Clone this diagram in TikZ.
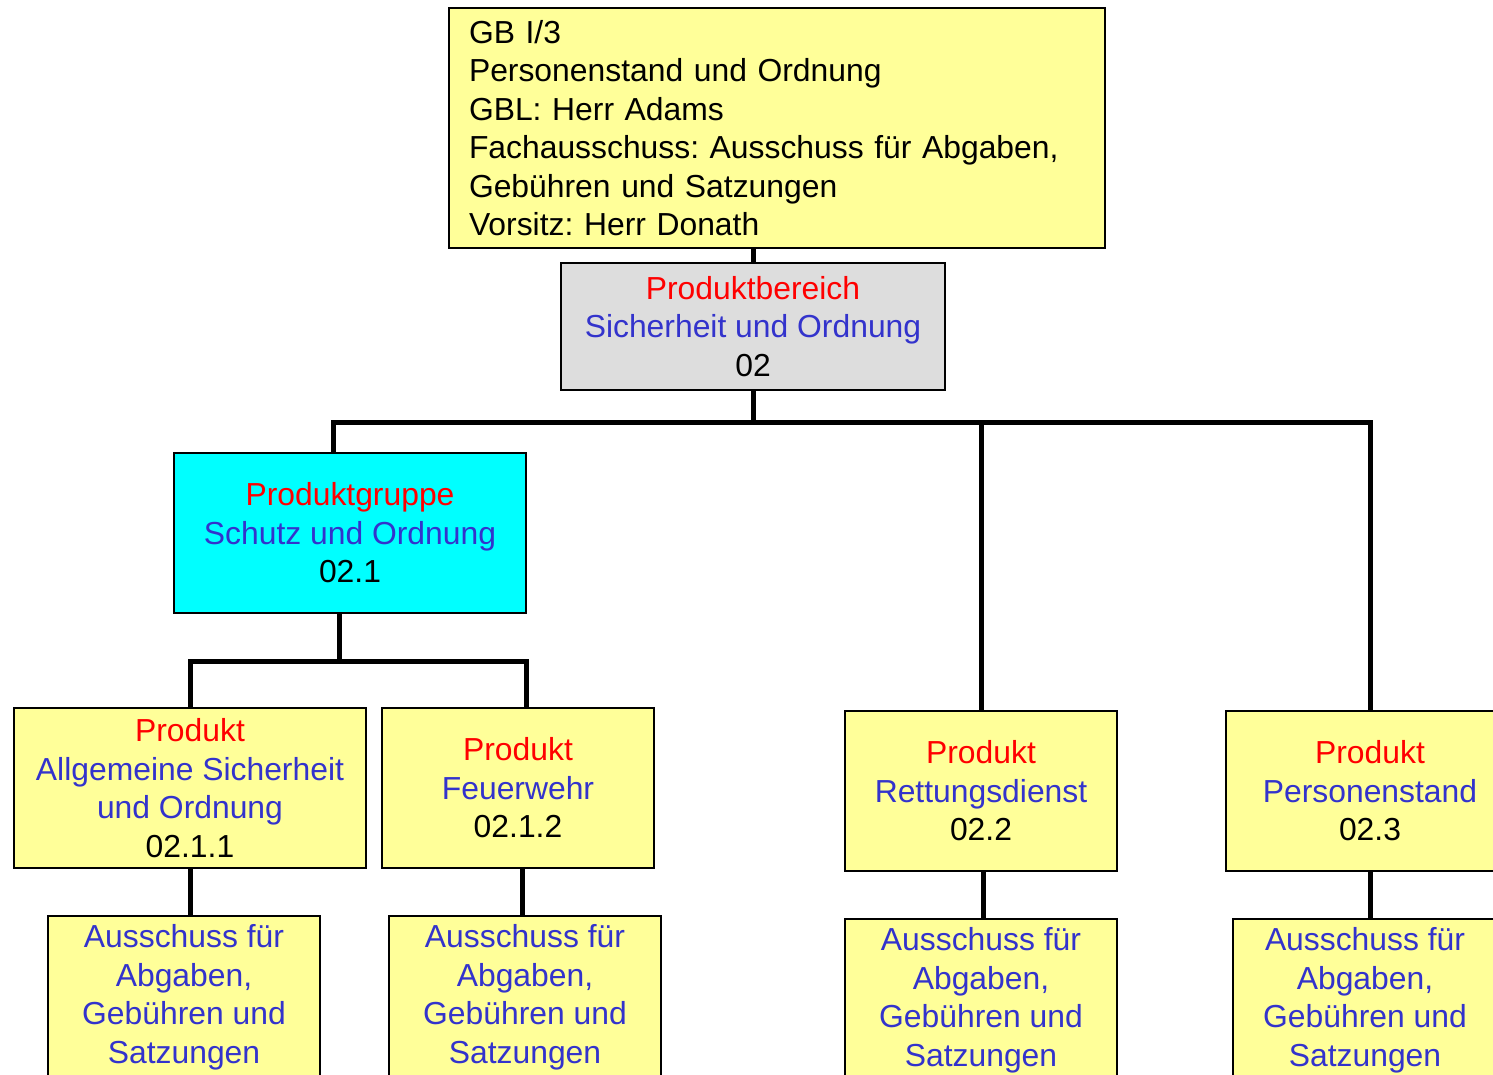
\documentclass[tikz,border=0pt]{standalone}
\usepackage{fontspec}
\setmainfont{Liberation Sans}
\usetikzlibrary{positioning, calc}

\definecolor{boxyellow}{HTML}{FFFF99}
\definecolor{boxgrey}{HTML}{DDDDDD}
\definecolor{boxcyan}{HTML}{00FFFF}
\definecolor{txtred}{HTML}{FF0000}
\definecolor{txtblue}{HTML}{3333CC}

\newcommand{\rtxt}[1]{\textcolor{txtred}{#1}}
\newcommand{\btxt}[1]{\textcolor{txtblue}{#1}}

\frenchspacing

\begin{document}
\begin{tikzpicture} [
    x=1pt, y=1pt,
    box/.style={rectangle, draw, line width=1.5pt, inner sep=0pt, align=center, font=\fontsize{31.85}{38.5}\selectfont},
    top_box/.style={box, fill=boxyellow, align=left, text width=616pt, inner xsep=20pt, minimum height=240pt},
    area_box/.style={box, fill=boxgrey, minimum width=384pt, minimum height=127pt},
    group_box/.style={box, fill=boxcyan, minimum width=352pt, minimum height=160pt},
    prod_box/.style={box, fill=boxyellow, minimum width=272pt, minimum height=160pt},
    comit_box/.style={box, fill=boxyellow, minimum width=272pt, minimum height=163pt},
    line/.style={draw, line width=5pt, line join=miter}
]
    \useasboundingbox (0,0) rectangle (1493,-1075);

    % Nodes
    \node[top_box] (gb) at (777,-128) {GB I/3\\Personenstand und Ordnung\\GBL: Herr Adams\\Fachausschuss: Ausschuss für Abgaben,\\Gebühren und Satzungen\\Vorsitz: Herr Donath};
    \node[area_box] (bereich) at (753,-326.5) {\rtxt{Produktbereich}\\\btxt{Sicherheit und Ordnung}\\02};
    \node[group_box] (gruppe) at (350,-533) {\rtxt{Produktgruppe}\\\btxt{Schutz und Ordnung}\\02.1};

    \node[prod_box, minimum width=352pt] (p211) at (190,-788) {\rtxt{Produkt}\\\btxt{Allgemeine Sicherheit}\\\btxt{und Ordnung}\\02.1.1};
    \node[prod_box] (p212) at (518,-788) {\rtxt{Produkt}\\\btxt{Feuerwehr}\\02.1.2};
    \node[prod_box] (p22) at (981,-791) {\rtxt{Produkt}\\\btxt{Rettungsdienst}\\02.2};
    \node[prod_box, minimum width=288pt] (p23) at (1370,-791) {\rtxt{Produkt}\\\btxt{Personenstand}\\02.3};

    \node[comit_box] (a211) at (184,-997.5) {\btxt{Ausschuss für}\\\btxt{Abgaben,}\\\btxt{Gebühren und}\\\btxt{Satzungen}};
    \node[comit_box] (a212) at (525,-997.5) {\btxt{Ausschuss für}\\\btxt{Abgaben,}\\\btxt{Gebühren und}\\\btxt{Satzungen}};
    \node[comit_box] (a22) at (981,-1000.5) {\btxt{Ausschuss für}\\\btxt{Abgaben,}\\\btxt{Gebühren und}\\\btxt{Satzungen}};
    \node[comit_box, minimum width=264pt] (a23) at (1365,-1000.5) {\btxt{Ausschuss für}\\\btxt{Abgaben,}\\\btxt{Gebühren und}\\\btxt{Satzungen}};

    % Lines
    \path [line] (bereich.north) -- (bereich.north |- gb.south);
    \path [line] (bereich.south) -- ++(0,-32) coordinate (bus);
    \path [line] ([xshift=-17pt]gruppe.north) |- (bus -| p23.north) -- (p23.north);
    \path [line] (p22.north) -- (p22.north |- bus);

    \path [line] ([xshift=-11pt]gruppe.south) -- ++(0,-48) coordinate (sub);
    \path [line] (p211.north) |- ([xshift=8pt]p212.north |- sub) -- ([xshift=8pt]p212.north);

    \path [line] (p211.south) -- (p211.south |- a211.north);
    \path [line] ([xshift=4pt]p212.south) -- ([xshift=4pt]p212.south |- a212.north);
    \path [line] ([xshift=2pt]p22.south) -- ([xshift=2pt]p22.south |- a22.north);
    \path [line] (p23.south) -- (p23.south |- a23.north);

\end{tikzpicture}
\end{document}
